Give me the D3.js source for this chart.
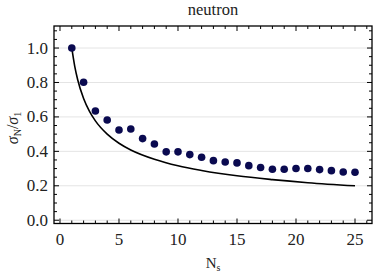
<!DOCTYPE html>
<html><head><meta charset="utf-8">
<script src="https://cdn.jsdelivr.net/npm/d3@7"></script>
<style>body{margin:0;background:#fff}svg{display:block}svg text{font-family:'Liberation Serif','Times New Roman',serif}</style>
</head><body><svg id="c" width="374" height="273"></svg>
<script>
const Ns = [1,2,3,4,5,6,7,8,9,10,11,12,13,14,15,16,17,18,19,20,21,22,23,24,25];
const ratio = [1.0,0.801,0.634,0.582,0.524,0.530,0.474,0.443,0.397,0.397,0.381,0.366,0.346,0.338,0.333,0.317,0.306,0.296,0.296,0.300,0.300,0.294,0.288,0.280,0.279];
const curveN = [1,1.25,1.5,2,2.5,3,4,5,6,8,10,12,15,18,21,25];
const curveV = [1.0,0.894,0.816,0.707,0.632,0.577,0.5,0.447,0.408,0.354,0.316,0.289,0.258,0.236,0.218,0.2];
const xTicks = [0,5,10,15,20,25];
const yTicks = [0.0,0.2,0.4,0.6,0.8,1.0];
const title = "neutron";

const svg = d3.select("#c");
const L=54, R=372, T=26, B=223.5;
const x = d3.scaleLinear().domain([-0.508,26.44]).range([L,R]);
const y = d3.scaleLinear().domain([-0.019,1.128]).range([B,T]);
const ff = "font-family:'Liberation Serif','Times New Roman',serif";

svg.append("g").selectAll("line").data(yTicks).join("line")
  .attr("x1",L).attr("x2",R).attr("y1",d=>y(d)).attr("y2",d=>y(d))
  .attr("stroke","#e4e4e4").attr("stroke-width",1);

svg.append("rect").attr("x",L).attr("y",T).attr("width",R-L).attr("height",B-T)
  .attr("fill","none").attr("stroke","#000").attr("stroke-width",1.3);

const xMinor = d3.range(0,27,1);
const yMinor = d3.range(0,1.13,0.05);
const tk = svg.append("g").attr("stroke","#000").attr("stroke-width",1);
xMinor.forEach(v=>{
  const len = (v%5===0)?5:3;
  tk.append("line").attr("x1",x(v)).attr("x2",x(v)).attr("y1",B).attr("y2",B-len);
  tk.append("line").attr("x1",x(v)).attr("x2",x(v)).attr("y1",T).attr("y2",T+len);
});
yMinor.forEach(v=>{
  const major = Math.abs(v*5-Math.round(v*5))<1e-6;
  const len = major?5:3;
  tk.append("line").attr("y1",y(v)).attr("y2",y(v)).attr("x1",L).attr("x2",L+len);
  tk.append("line").attr("y1",y(v)).attr("y2",y(v)).attr("x1",R).attr("x2",R-len);
});

svg.append("g").selectAll("text").data(xTicks).join("text").attr("style",ff)
  .attr("x",d=>x(d)).attr("y",245).attr("text-anchor","middle")
  .attr("font-size",17).attr("fill","#222").text(d=>d);
svg.append("g").selectAll("text").data(yTicks).join("text").attr("style",ff)
  .attr("x",48).attr("y",d=>y(d)+5.5).attr("text-anchor","end")
  .attr("font-size",17).attr("fill","#222").text(d=>d.toFixed(1));

const line = d3.line().x((d,i)=>x(curveN[i])).y(d=>y(d)).curve(d3.curveMonotoneX);
svg.append("path").datum(curveV).attr("d",line).attr("fill","none")
  .attr("stroke","#000").attr("stroke-width",1.6);

svg.append("g").selectAll("circle").data(ratio).join("circle")
  .attr("cx",(d,i)=>x(Ns[i])).attr("cy",d=>y(d)).attr("r",3.8).attr("fill","#0a0a50");

svg.append("text").attr("style",ff).attr("x",(L+R)/2).attr("y",15).attr("text-anchor","middle")
  .attr("font-size",16.5).attr("fill","#222").text(title);

const xl = svg.append("text").attr("style",ff).attr("x",213).attr("y",268).attr("text-anchor","middle")
  .attr("font-size",15).attr("fill","#222");
xl.append("tspan").text("N");
xl.append("tspan").attr("font-size",10).attr("dy",3).text("s");

const yl = svg.append("text").attr("style",ff).attr("transform","translate(18,128) rotate(-90)")
  .attr("text-anchor","middle").attr("font-size",16).attr("fill","#222");
yl.append("tspan").attr("font-style","italic").text("σ");
yl.append("tspan").attr("font-size",10).attr("dy",3).text("N");
yl.append("tspan").attr("dy",-3).text("/");
yl.append("tspan").attr("font-style","italic").text("σ");
yl.append("tspan").attr("font-size",10).attr("dy",3).text("1");
</script></body></html>
